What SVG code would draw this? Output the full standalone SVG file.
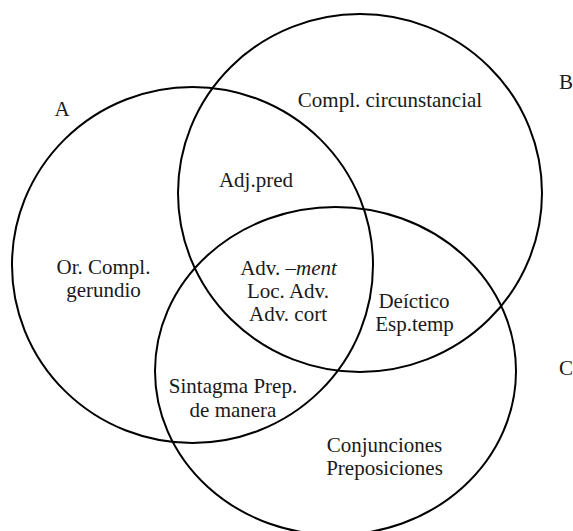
<svg xmlns="http://www.w3.org/2000/svg" width="573" height="531" viewBox="0 0 573 531">
<style>
.set{fill:none;stroke:#000;stroke-width:2}
text{font-family:"Liberation Serif","Times New Roman",serif;font-size:21px;fill:#1a1a1a;text-anchor:middle}
</style>
<rect width="573" height="531" fill="#fff"/>
<g id="setA">
<ellipse class="set" cx="192.5" cy="265" rx="180.5" ry="178"/>
<text x="62" y="116">A</text>
</g>
<g id="setB">
<ellipse class="set" cx="360" cy="193" rx="182" ry="179"/>
<text x="566" y="89">B</text>
</g>
<g id="setC">
<ellipse class="set" cx="335.5" cy="371" rx="180.5" ry="164"/>
<text x="566" y="375">C</text>
</g>
<g id="onlyA"><text x="103.5" y="274">Or. Compl.</text><text x="103.5" y="297">gerundio</text></g>
<g id="onlyB"><text x="390" y="107">Compl. circunstancial</text></g>
<g id="AB"><text x="256" y="187">Adj.pred</text></g>
<g id="ABC"><text x="288.5" y="275">Adv. <tspan font-style="italic">–ment</tspan></text><text x="288" y="298">Loc. Adv.</text><text x="288" y="321">Adv. cort</text></g>
<g id="BC"><text x="414" y="308">Deíctico</text><text x="414.5" y="331">Esp.temp</text></g>
<g id="AC"><text x="233" y="393">Sintagma Prep.</text><text x="233" y="417">de manera</text></g>
<g id="onlyC"><text x="384.5" y="452">Conjunciones</text><text x="384.5" y="475">Preposiciones</text></g>
<g id="connectors"/>
</svg>
